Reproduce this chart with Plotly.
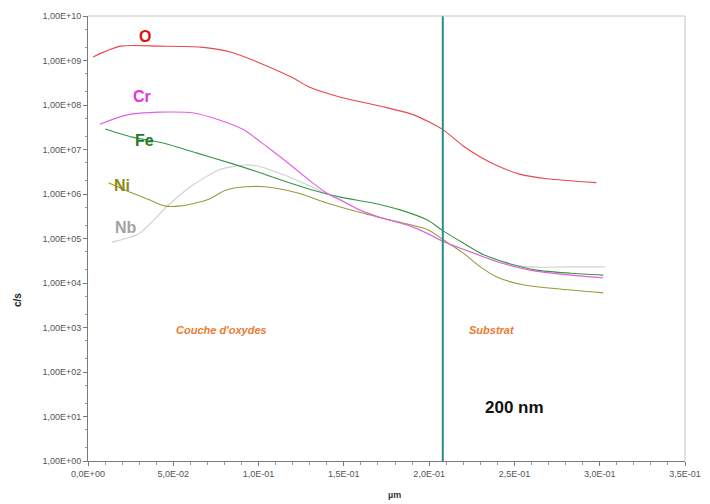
import plotly.graph_objects as go

# ---------------- data ----------------
o_x = [0.003, 0.019, 0.042, 0.066, 0.085, 0.101, 0.120, 0.130, 0.148, 0.171, 0.191, 0.208, 0.220, 0.230, 0.240, 0.253, 0.269, 0.298]
o_y = [1.2e9, 2.1e9, 2.1e9, 2.0e9, 1.5e9, 8.7e8, 4.1e8, 2.5e8, 1.5e8, 9.5e7, 6.0e7, 2.8e7, 1.2e7, 6.8e6, 4.3e6, 2.8e6, 2.2e6, 1.8e6]

cr_x = [0.007, 0.023, 0.042, 0.062, 0.077, 0.091, 0.105, 0.120, 0.130, 0.140, 0.148, 0.159, 0.171, 0.187, 0.199, 0.208, 0.226, 0.240, 0.259, 0.283, 0.302]
cr_y = [3.7e7, 6.0e7, 6.9e7, 6.6e7, 4.6e7, 2.8e7, 1.15e7, 4.1e6, 2.0e6, 1.05e6, 7.4e5, 4.4e5, 3.0e5, 2.0e5, 1.3e5, 8.7e4, 4.7e4, 3.0e4, 1.95e4, 1.5e4, 1.3e4]

fe_x = [0.010, 0.026, 0.044, 0.064, 0.083, 0.101, 0.108, 0.128, 0.148, 0.167, 0.183, 0.199, 0.208, 0.220, 0.232, 0.246, 0.263, 0.283, 0.302]
fe_y = [2.9e7, 1.9e7, 1.4e7, 8.3e6, 5.0e6, 3.0e6, 2.4e6, 1.35e6, 8.5e5, 6.3e5, 4.4e5, 2.6e5, 1.5e5, 7.9e4, 4.3e4, 2.8e4, 1.95e4, 1.66e4, 1.5e4]

ni_x = [0.012, 0.026, 0.036, 0.045, 0.054, 0.070, 0.081, 0.093, 0.104, 0.123, 0.140, 0.158, 0.177, 0.199, 0.208, 0.220, 0.230, 0.240, 0.255, 0.275, 0.302]
ni_y = [1.8e6, 1.05e6, 7.4e5, 5.4e5, 5.4e5, 7.4e5, 1.23e6, 1.45e6, 1.45e6, 1.05e6, 6.3e5, 4.0e5, 2.6e5, 1.6e5, 9.5e4, 4.7e4, 2.3e4, 1.35e4, 9.1e3, 7.4e3, 6.0e3]

nb_x = [0.014, 0.030, 0.046, 0.060, 0.077, 0.092, 0.101, 0.118, 0.144, 0.159, 0.171, 0.189, 0.208, 0.226, 0.240, 0.259, 0.283, 0.303]
nb_y = [8.3e4, 1.3e5, 5.1e5, 1.45e6, 3.5e6, 4.5e6, 4.1e6, 2.4e6, 8.5e5, 4.4e5, 3.0e5, 2.0e5, 8.7e4, 4.7e4, 3.0e4, 2.3e4, 2.3e4, 2.3e4]

substrate_boundary = 0.208

x_tickvals = [0.0, 0.05, 0.10, 0.15, 0.20, 0.25, 0.30, 0.35]
x_ticktext = ["0,0E+00", "5,0E-02", "1,0E-01", "1,5E-01", "2,0E-01", "2,5E-01", "3,0E-01", "3,5E-01"]
y_tickvals = [10 ** k for k in range(0, 11)]
y_ticktext = ["1,00E+%02d" % k for k in range(0, 11)]

series = [
    ("O", o_x, o_y, "#e8474a"),
    ("Cr", cr_x, cr_y, "#e45ee4"),
    ("Fe", fe_x, fe_y, "#3a9446"),
    ("Ni", ni_x, ni_y, "#9c9a3a"),
    ("Nb", nb_x, nb_y, "#cfcfcf"),
]

fig = go.Figure()
# draw Nb first so it sits underneath
for name, xs, ys, col in reversed(series):
    fig.add_trace(go.Scatter(x=xs, y=ys, mode="lines", name=name,
                             line=dict(color=col, width=1.1, shape="spline", smoothing=0.7),
                             hoverinfo="skip"))

fig.add_trace(go.Scatter(x=[substrate_boundary, substrate_boundary], y=[1, 1e10], mode="lines",
                         line=dict(color="#2a8c84", width=2), hoverinfo="skip"))

font_family = "Liberation Sans, Arial, sans-serif"

labels = [
    ("O", 0.0334, 9.53, "#e01010"),
    ("Cr", 0.0317, 8.18, "#e830e8"),
    ("Fe", 0.033, 7.21, "#1f7a2a"),
    ("Ni", 0.020, 6.18, "#8e8c10"),
    ("Nb", 0.022, 5.24, "#a2a2a2"),
]
annotations = []
for txt, ax_, ay_, col in labels:
    annotations.append(dict(x=ax_, y=ay_, xref="x", yref="y", text="<b>%s</b>" % txt, showarrow=False,
                            xanchor="center", yanchor="middle",
                            font=dict(family=font_family, size=16, color=col)))

annotations += [
    dict(x=0.078, y=2.94, xref="x", yref="y", text="<b><i>Couche d'oxydes</i></b>", showarrow=False,
         xanchor="center", yanchor="middle",
         font=dict(family=font_family, size=11, color="#ec7a30")),
    dict(x=0.2368, y=2.94, xref="x", yref="y", text="<b><i>Substrat</i></b>", showarrow=False,
         xanchor="center", yanchor="middle",
         font=dict(family=font_family, size=11, color="#ec7a30")),
    dict(x=0.250, y=1.21, xref="x", yref="y", text="<b>200 nm</b>", showarrow=False,
         xanchor="center", yanchor="middle",
         font=dict(family=font_family, size=17, color="#111111")),
    dict(x=-0.117, y=0.362, xref="paper", yref="paper", text="<b>c/s</b>", showarrow=False, textangle=-90,
         xanchor="center", yanchor="middle",
         font=dict(family=font_family, size=10, color="#222222")),
    dict(x=0.514, y=-0.076, xref="paper", yref="paper", text="<b>µm</b>", showarrow=False,
         xanchor="center", yanchor="middle",
         font=dict(family=font_family, size=9, color="#333333")),
]

fig.update_layout(
    width=710, height=504,
    margin=dict(l=88, r=25, t=16, b=43, autoexpand=False),
    paper_bgcolor="white", plot_bgcolor="white",
    showlegend=False,
    annotations=annotations,
    shapes=[
        dict(type="line", xref="x domain", yref="y domain", x0=0, x1=1, y0=1, y1=1,
             line=dict(color="#c4c4c4", width=1)),
        dict(type="line", xref="x domain", yref="y domain", x0=1, x1=1, y0=0, y1=1,
             line=dict(color="#c4c4c4", width=1)),
    ],
)

fig.update_xaxes(range=[0, 0.35], tickmode="array", tickvals=x_tickvals, ticktext=x_ticktext,
                 automargin=False,
                 showgrid=False, zeroline=False, showline=True, linecolor="#7a7a7a", linewidth=1,
                 ticks="outside", ticklen=4, tickcolor="#7a7a7a",
                 minor=dict(ticks="outside", ticklen=3, tickcolor="#9a9a9a", dtick=0.01, tick0=0),
                 tickfont=dict(family=font_family, size=9, color="#555555"))

fig.update_yaxes(type="log", range=[0, 10], tickmode="array", tickvals=y_tickvals, ticktext=y_ticktext,
                 automargin=False,
                 showgrid=False, zeroline=False, showline=True, linecolor="#7a7a7a", linewidth=1,
                 ticks="outside", ticklen=4, tickcolor="#7a7a7a",
                 minor=dict(ticks="outside", ticklen=2, tickcolor="#9a9a9a"),
                 tickfont=dict(family=font_family, size=9, color="#555555"))

fig.write_html("out.html", config={"displayModeBar": False},
               post_script="document.body.style.margin='0';document.body.style.overflow='hidden';")
